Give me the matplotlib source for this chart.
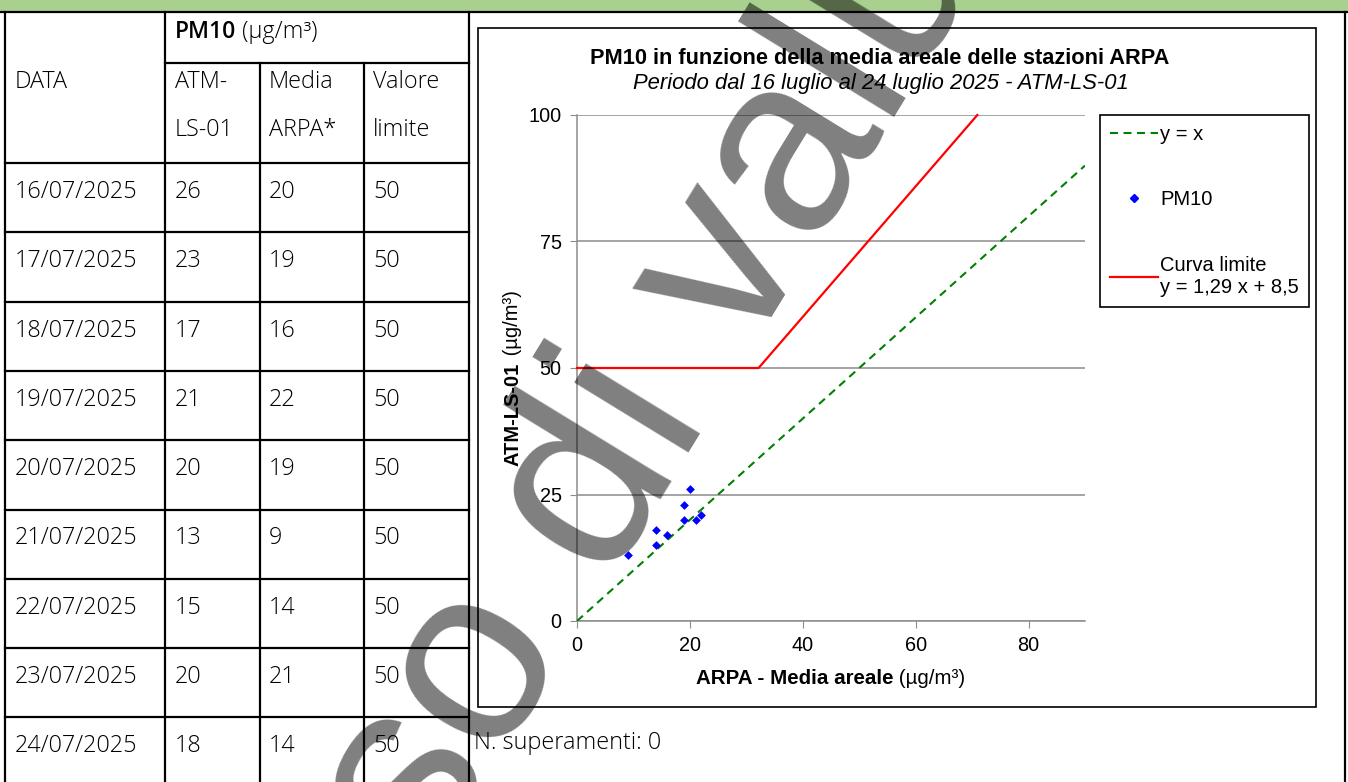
import matplotlib
matplotlib.use("Agg")
import matplotlib.pyplot as plt
from matplotlib.lines import Line2D
from matplotlib.patches import Rectangle

# table data
dates = ["16/07/2025", "17/07/2025", "18/07/2025", "19/07/2025", "20/07/2025",
         "21/07/2025", "22/07/2025", "23/07/2025", "24/07/2025"]
atm_ls01 = [26, 23, 17, 21, 20, 13, 15, 20, 18]
media_arpa = [20, 19, 16, 22, 19, 9, 14, 21, 14]
valore_limite = [50, 50, 50, 50, 50, 50, 50, 50, 50]

# chart settings
x_max = 90
y_max = 100
x_ticks = [0, 20, 40, 60, 80]
y_ticks = [0, 25, 50, 75, 100]
slope = 1.29
intercept = 8.5
soglia = 50

CHART_FONT = "Liberation Sans"
TABLE_FONT = "Open Sans"

fig = plt.figure(figsize=(13.48, 7.82), dpi=100)
renderer = fig.canvas.get_renderer()

# background axes in pixel coords (y down)
bg = fig.add_axes([0, 0, 1, 1])
bg.set_xlim(0, 1348)
bg.set_ylim(782, 0)
bg.axis("off")

bg.add_patch(Rectangle((0, 0), 1348, 11.5, color="#a9d08e", lw=0))
lw_t = 1.6
bg.plot([0, 1348], [12, 12], color="black", lw=lw_t)
for x, y0 in [(5, 12), (165, 12), (260, 63), (364, 63), (469, 12), (1345, 12)]:
    bg.plot([x, x], [y0, 782], color="black", lw=lw_t)
bg.plot([165, 469], [63, 63], color="black", lw=lw_t)
row_h = 69.3
for k in range(len(dates)):
    y = 163 + k * row_h
    bg.plot([5, 469], [y, y], color="black", lw=lw_t)

tkw = dict(family=TABLE_FONT, fontsize=16.8, fontweight="light", color="black", va="center")
bg.text(15, 82, "DATA", **tkw)
t_pm = bg.text(175, 32, "PM10", family=TABLE_FONT, fontsize=16.5, fontweight="semibold",
               va="center", color="black")
bb = t_pm.get_window_extent(renderer=renderer)
bg.text(bb.x1 * 1348 / fig.bbox.width, 32, " (\u00b5g/m\u00b3)", **tkw)
col_x = [175, 269, 373]
bg.text(col_x[0], 82, "ATM-", **tkw)
bg.text(col_x[0], 130, "LS-01", **tkw)
bg.text(col_x[1], 82, "Media", **tkw)
bg.text(col_x[1], 130, "ARPA*", **tkw)
bg.text(col_x[2], 82, "Valore", **tkw)
bg.text(col_x[2], 130, "limite", **tkw)
for k, d in enumerate(dates):
    yc = 163 + k * row_h + 29
    bg.text(15, yc, d, **tkw)
    bg.text(col_x[0], yc, str(atm_ls01[k]), **tkw)
    bg.text(col_x[1], yc, str(media_arpa[k]), **tkw)
    bg.text(col_x[2], yc, str(valore_limite[k]), **tkw)
bg.text(474, 743, "N. superamenti: 0", **tkw)

# chart frame
bg.add_patch(Rectangle((478, 28), 1316 - 478, 707 - 28, fill=False, ec="black", lw=1.2))
bg.text(880, 58, "PM10 in funzione della media areale delle stazioni ARPA",
        family=CHART_FONT, fontsize=15.7, fontweight="bold", ha="center", va="center")
bg.text(881, 84, "Periodo dal 16 luglio al 24 luglio 2025 - ATM-LS-01",
        family=CHART_FONT, fontsize=15.8, style="italic", ha="center", va="center")
bg.text(893, 684, "ARPA - Media areale", family=CHART_FONT, fontsize=14.8,
        fontweight="bold", ha="right", va="baseline")
bg.text(893, 684, " (\u00b5g/m\u00b3)", family=CHART_FONT, fontsize=14.8,
        ha="left", va="baseline")
bg.text(513, 363, "ATM-LS-01", family=CHART_FONT, fontsize=14.5, fontweight="bold",
        rotation=90, ha="center", va="top")
bg.text(513, 361, " (\u00b5g/m\u00b3)", family=CHART_FONT, fontsize=14.5,
        rotation=90, ha="center", va="bottom")

# scatter chart
ax = fig.add_axes([577 / 1348, 1 - 621 / 782, (1085 - 577) / 1348, (621 - 115) / 782])
ax.patch.set_alpha(0)
ax.set_xlim(0, x_max)
ax.set_ylim(0, y_max)
ax.set_xticks(x_ticks)
ax.set_yticks(y_ticks)
ax.grid(axis="y", color="#8c8c8c", lw=1.1)
ax.set_axisbelow(True)
for s in ["top", "right"]:
    ax.spines[s].set_visible(False)
for s in ["left", "bottom"]:
    ax.spines[s].set_color("#8c8c8c")
    ax.spines[s].set_linewidth(1.1)
ax.tick_params(direction="out", length=5, color="#8c8c8c", labelsize=14.3, pad=6)
for lab in ax.get_xticklabels() + ax.get_yticklabels():
    lab.set_family(CHART_FONT)

ax.plot([0, x_max], [0, x_max], color="#008000", lw=1.5, dashes=(3.8, 2.7), zorder=3)
x_knee = (soglia - intercept) / slope
x_top = (y_max - intercept) / slope
ax.plot([0, x_knee, x_top], [soglia, soglia, y_max], color="#ff0000", lw=1.6, zorder=3,
        clip_on=False)
ax.scatter(media_arpa, atm_ls01, marker="D", s=20, color="#0000ff", lw=0, zorder=4)

handles = [
    Line2D([], [], color="#008000", lw=1.5, dashes=(3.8, 2.7)),
    Line2D([], [], marker="D", ms=4.3, color="#0000ff", lw=0),
    Line2D([], [], color="#ff0000", lw=1.6),
]
labels = ["y = x", "PM10", "Curva limite\ny = 1,29 x + 8,5"]
leg = ax.legend(handles, labels, loc="upper left",
                bbox_to_anchor=(1100 / 1348, 1 - 115 / 782), bbox_transform=fig.transFigure,
                prop={"family": CHART_FONT, "size": 14.5}, frameon=True, fancybox=False,
                edgecolor="black", framealpha=1, handlelength=2.4, handletextpad=0.1,
                labelspacing=2.3, borderpad=0.5, borderaxespad=0)
leg.get_frame().set_linewidth(1.2)

# watermark
fig.text(335 / 1348, 1 - 1029 / 782, "Uso di valutazione", family="Liberation Sans",
         fontsize=182, rotation=58.5, rotation_mode="anchor", ha="left", va="baseline",
         color="black", alpha=0.5, zorder=20)

fig.savefig("out.png", dpi=100)
